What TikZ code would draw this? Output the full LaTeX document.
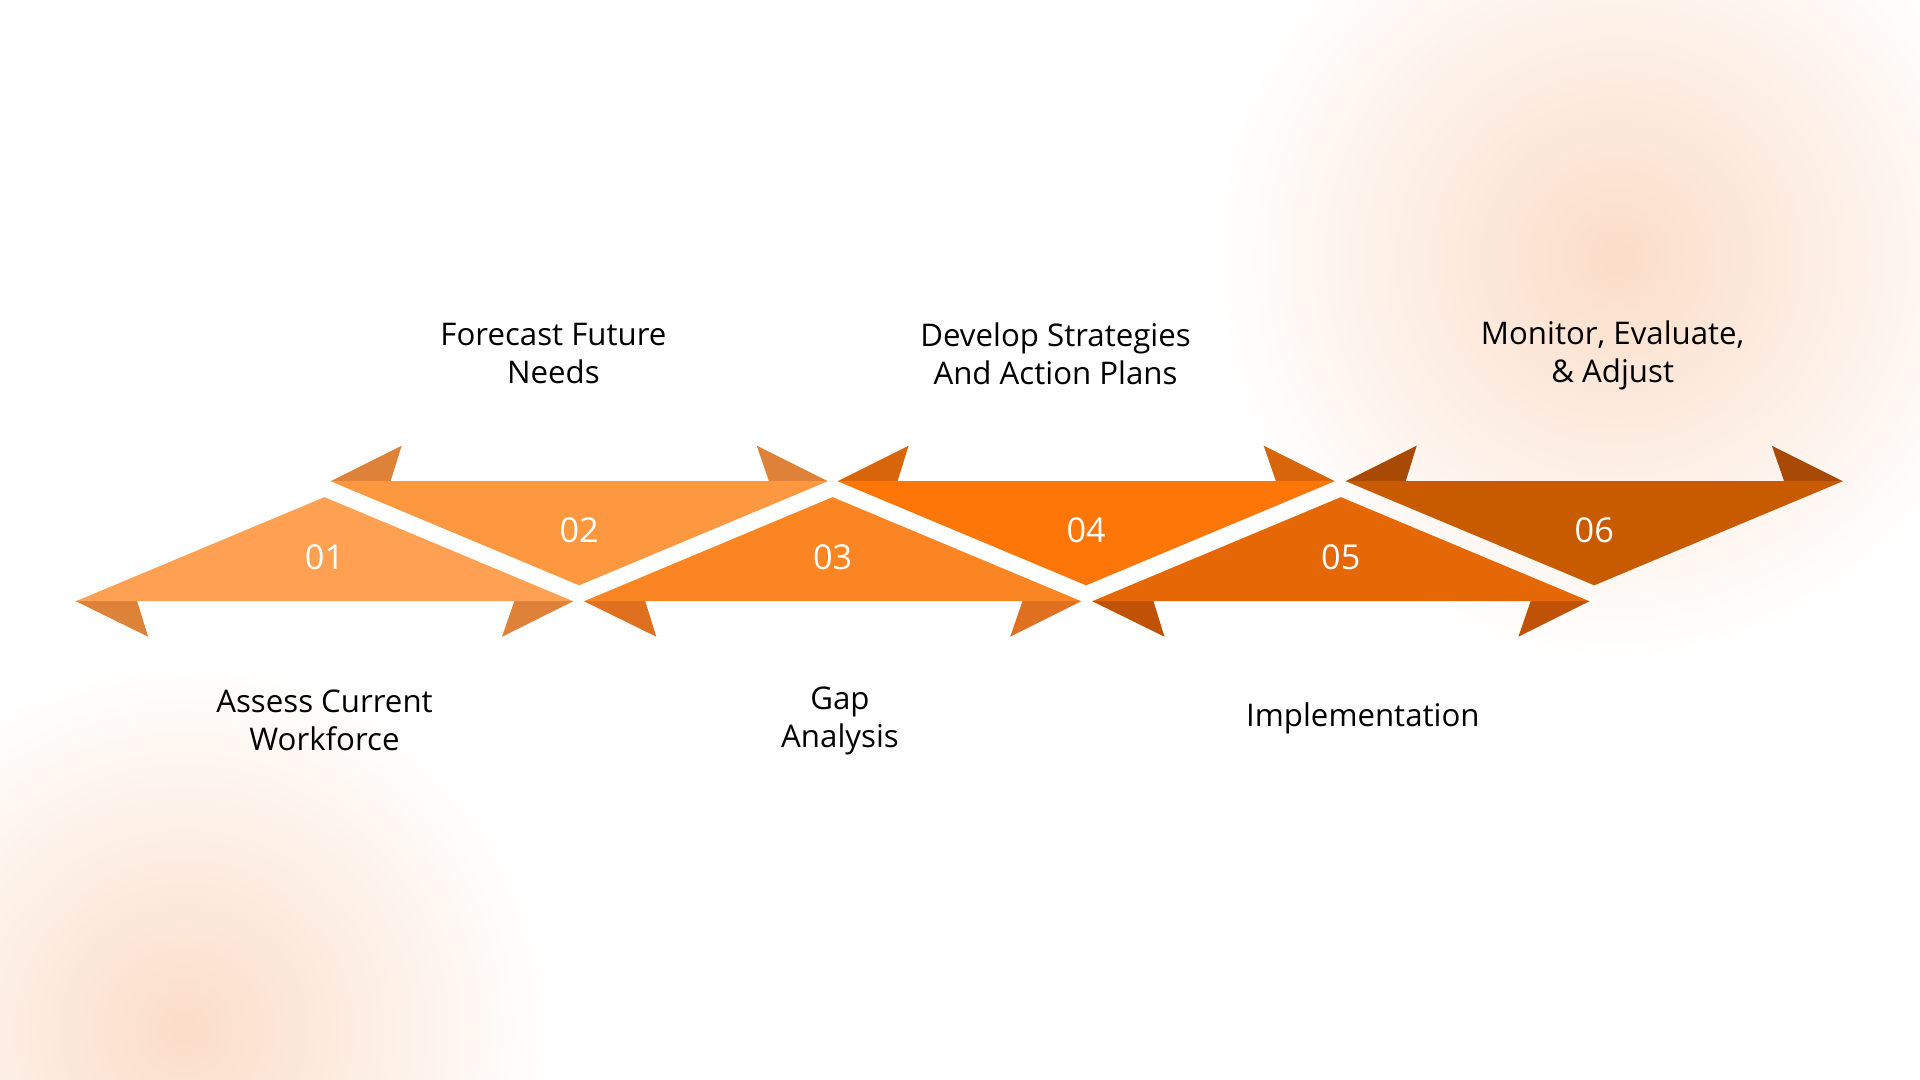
\documentclass[tikz,border=0pt]{standalone}
\usepackage{fontspec}
\setmainfont{Open Sans}
\begin{document}
\begin{tikzpicture}[x=1pt,y=-1pt,
 lbl/.style={font=\fontsize{25.5}{31}\selectfont, align=center, text=black},
 num/.style={font=\fontsize{28}{30}\selectfont, text=white}]
\useasboundingbox (0,0) rectangle (1568,882);
\fill[white] (0,0) rectangle (1568,882);
\definecolor{glow}{HTML}{FBDDC8}
\shade[inner color=glow, outer color=white] (1320,210) circle (330);
\shade[inner color=glow, outer color=white] (150,840) circle (300);
% up triangles (bottom tabs)
\foreach \c/\col/\tab/\n in {265/FFA052/DE823A/01, 680/FA8522/DE7020/03, 1095/E66705/C05205/05}{
  \definecolor{fc}{HTML}{\col}\definecolor{tc}{HTML}{\tab}
  \fill[tc] (\c-203,491) -- (\c-144,520) -- (\c-153,491) -- cycle;
  \fill[tc] (\c+203,491) -- (\c+145,520) -- (\c+155,491) -- cycle;
  \fill[fc] (\c,406) -- (\c+203,491) -- (\c-203,491) -- cycle;
  \node[num] (n\n) at (\c,455) {\n};
}
\foreach \c/\col/\tab/\n in {473/FD9740/DE823A/02, 887/FE7508/D9650A/04, 1302/C85A00/A84A05/06}{
  \definecolor{fc}{HTML}{\col}\definecolor{tc}{HTML}{\tab}
  \fill[tc] (\c-203,393) -- (\c-145,364) -- (\c-154,393) -- cycle;
  \fill[tc] (\c+203,393) -- (\c+145,364) -- (\c+155,393) -- cycle;
  \fill[fc] (\c-203,393) -- (\c+203,393) -- (\c,478) -- cycle;
  \node[num] (n\n) at (\c,433) {\n};
}
\node[lbl] (t2) at (452,289) {Forecast Future\\Needs};
\node[lbl] (t4) at (862,289) {Develop Strategies\\And Action Plans};
\node[lbl] (t6) at (1317,290) {Monitor, Evaluate,\\\& Adjust};
\node[lbl] (b1) at (265,588) {Assess Current\\Workforce};
\node[lbl] (b3) at (686,589) {Gap\\Analysis};
\node[lbl] (b5) at (1113,587) {Implementation};
\end{tikzpicture}
\end{document}
